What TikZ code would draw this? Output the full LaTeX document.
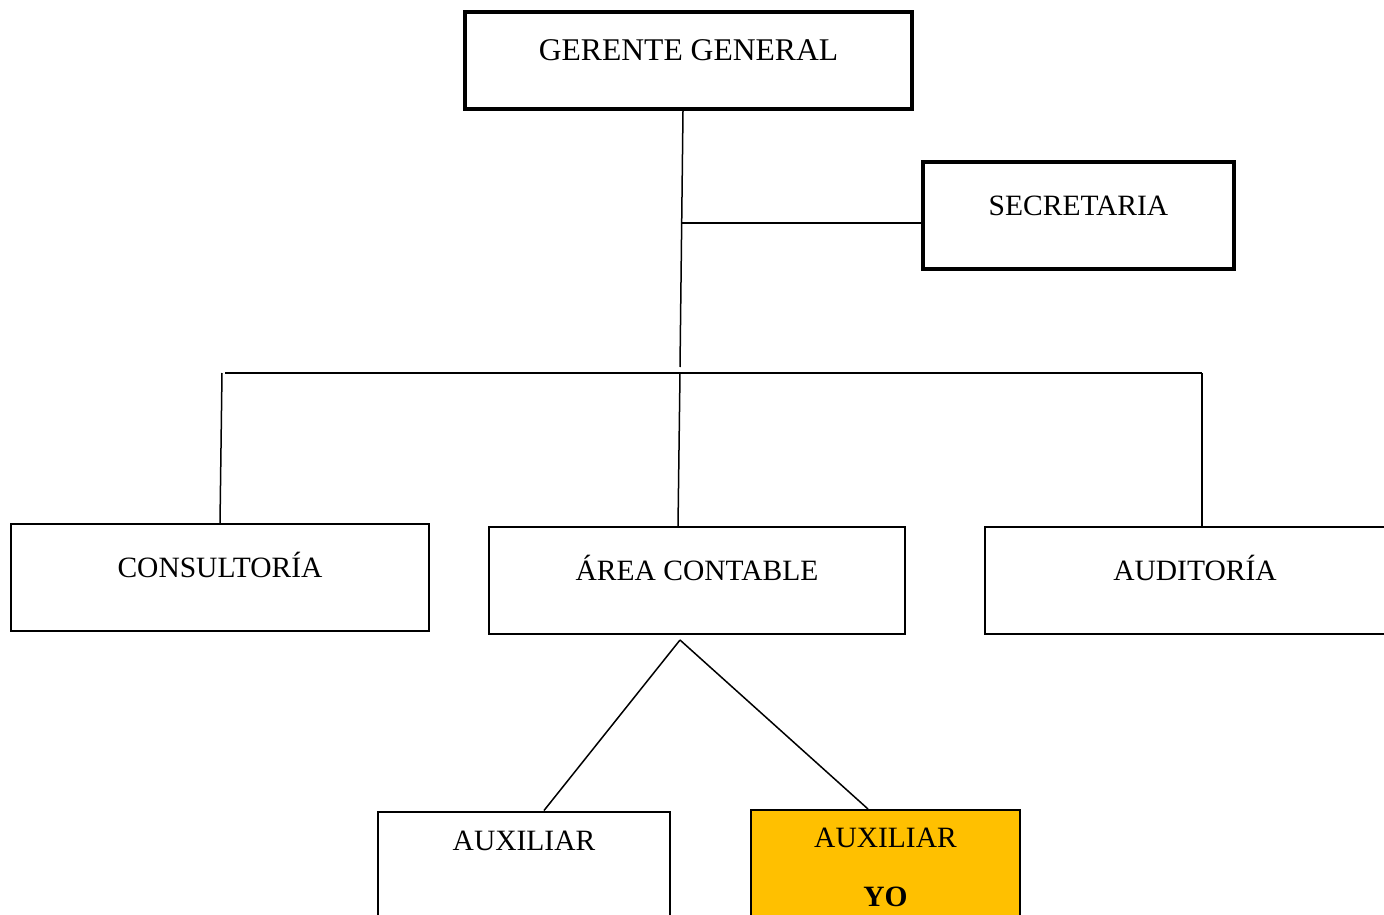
\documentclass[tikz,border=0pt]{standalone}
\usepackage{fontspec}
\setmainfont{Liberation Serif}
\definecolor{amarillo}{HTML}{FFC000}

\begin{document}
\begin{tikzpicture}[x=1pt, y=-1pt,
    box/.style={draw, line width=2pt, inner sep=0pt, text height=21pt, text depth=21pt,
        minimum height=107pt, font=\fontsize{29.5}{36}\selectfont},
    jefe/.style={box, line width=4pt},
    link/.style={line width=1.5pt}]
        \clip (0, 0) rectangle (1384, 915);

        \node[jefe, minimum width=447pt, minimum height=97pt, font=\fontsize{31.6}{38}\selectfont] at (688.5, 60.5)(gerente){GERENTE GENERAL};
        \node[jefe, minimum width=311pt] at (1078.5, 215.5)(secretaria){SECRETARIA};
        \node[box, minimum width=418pt] at (220, 577.5)(consultoria){CONSULTORÍA};
        \node[box, minimum width=416pt] at (697, 580.5)(area){ÁREA CONTABLE};
        \node[box, minimum width=420pt] at (1195, 580.5)(auditoria){AUDITORÍA};
        \node[box, minimum width=292pt, minimum height=118pt, inner ysep=18pt, text depth=62pt] at (524, 871)(auxiliar){AUXILIAR};
        \node[box, fill=amarillo, minimum width=269pt, anchor=north, align=center, text height=, text depth=,
            inner ysep=18pt, minimum height=0pt] at (885.5, 809)(yo){AUXILIAR\\[23pt]\textbf{YO}\\[40pt]\mbox{}};

        \coordinate (trunk) at (680, 367);
        \coordinate (secbranch) at (681, 223);
        \coordinate (buswest) at (225, 373);
        \coordinate (buseast) at (1202, 373);
        \coordinate (consulttop) at (222, 373);
        \coordinate (areatop) at (680, 373);
        \coordinate (split) at (680, 640);

        \path[link]
        ([xshift=-5.5pt]gerente.south)edge(trunk)
        (secbranch)edge(secbranch -| secretaria.west)
        (buswest)edge(buseast)
        (consulttop)edge(consultoria.north)
        (areatop)edge([xshift=-19pt]area.north)
        (buseast)edge(buseast |- auditoria.north)
        (split)edge([xshift=20pt]auxiliar.north)
        (split)edge([xshift=-17.5pt]yo.north)
        ;
    \end{tikzpicture}
\end{document}
